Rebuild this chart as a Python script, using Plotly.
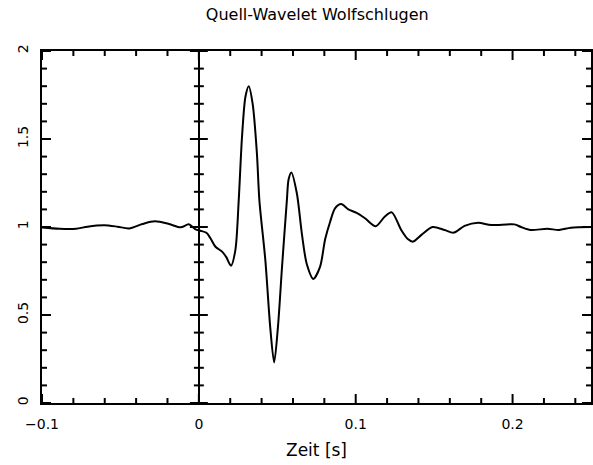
import plotly.graph_objects as go

# Wavelet samples (time in s, amplitude)
zeit = [-0.1002, -0.0889, -0.0783, -0.0710, -0.0604, -0.0519, -0.0445, -0.0360,
        -0.0280, -0.0190, -0.0116, -0.0064, -0.0021, 0.0010, 0.0048, 0.0074,
        0.0106, 0.0148, 0.0174, 0.0205, 0.0233, 0.0254, 0.0275, 0.0297, 0.0318,
        0.0343, 0.0370, 0.0386, 0.0424, 0.0455, 0.0480, 0.0504, 0.0530, 0.0561,
        0.0572, 0.0590, 0.0625, 0.0657, 0.0688, 0.0730, 0.0773, 0.0805, 0.0837,
        0.0868, 0.0907, 0.0953, 0.1006, 0.1059, 0.1127, 0.1186, 0.1230, 0.1290,
        0.1334, 0.1366, 0.1419, 0.1490, 0.1567, 0.1624, 0.1694, 0.1780, 0.1864,
        0.2012, 0.2054, 0.2115, 0.2222, 0.2296, 0.2372, 0.2500]
amplitude = [0.998, 0.990, 0.990, 1.002, 1.010, 1.002, 0.992, 1.017,
             1.032, 1.017, 0.998, 1.015, 0.987, 0.979, 0.967, 0.936,
             0.888, 0.860, 0.830, 0.780, 0.870, 1.150, 1.510, 1.740, 1.800,
             1.700, 1.420, 1.150, 0.810, 0.430, 0.230, 0.430, 0.770, 1.150,
             1.270, 1.310, 1.190, 0.960, 0.790, 0.705, 0.775, 0.930, 1.030,
             1.106, 1.130, 1.100, 1.080, 1.050, 1.004, 1.060, 1.083, 0.983,
             0.930, 0.917, 0.955, 1.000, 0.983, 0.968, 1.006, 1.024, 1.011,
             1.015, 1.000, 0.983, 0.990, 0.983, 0.996, 1.000]

# Major tick positions (labels: Plotly default formatting -> "−0.1", "0", "0.1", "0.2";
# "0", "0.5", "1", "1.5", "2")
x_ticks = [-0.1, 0.0, 0.1, 0.2]
y_ticks = [0.0, 0.5, 1.0, 1.5, 2.0]
x_minor_step = 0.02
y_minor_step = 0.1
x_range = [-0.1, 0.25]
y_range = [0.0, 2.0]

FONT = "DejaVu Sans"
LINE = "#000000"
W, H = 593, 465
M = dict(l=42, r=0, t=51, b=62)

# tick lengths in pixels, converted to data units through the axis scales
px_x = (x_range[1] - x_range[0]) / (W - M["l"] - M["r"])
px_y = (y_range[1] - y_range[0]) / (H - M["t"] - M["b"])
MAJ, MIN = 9.0, 5.0


def steps(lo, hi, step):
    n = int(round((hi - lo) / step))
    return [round(lo + i * step, 6) for i in range(n + 1)]


x_all = steps(x_range[0], x_range[1] - 1e-9, x_minor_step)
y_all = steps(y_range[0], y_range[1], y_minor_step)
x_major = set(round(v, 6) for v in x_ticks)
y_major = set(round(v, 6) for v in y_ticks)

tx, ty = [], []
# ticks along bottom and top edges (pointing inward)
for xv in x_all:
    L = (MAJ if xv in x_major else MIN) * px_y
    tx += [xv, xv, None, xv, xv, None]
    ty += [y_range[0], y_range[0] + L, None, y_range[1], y_range[1] - L, None]
# ticks along left and right edges (inward) and crossing the t = 0 line
for yv in y_all:
    L = (MAJ if yv in y_major else MIN) * px_x
    tx += [x_range[0], x_range[0] + L, None, x_range[1], x_range[1] - L, None, -L, L, None]
    ty += [yv, yv, None, yv, yv, None, yv, yv, None]

fig = go.Figure()
fig.add_trace(go.Scatter(x=tx, y=ty, mode="lines", connectgaps=False,
                         line=dict(color=LINE, width=2),
                         hoverinfo="skip", showlegend=False))
fig.add_trace(go.Scatter(x=zeit, y=amplitude, mode="lines",
                         line=dict(color="black", width=2, shape="spline", smoothing=0.8),
                         hoverinfo="skip", showlegend=False))

fig.update_layout(
    width=W, height=H, margin=M,
    paper_bgcolor="white", plot_bgcolor="white",
    font=dict(family=FONT, size=14, color="black"),
    title=dict(text="Quell-Wavelet Wolfschlugen", x=0.535, xref="container",
               xanchor="center", y=0.97, yref="container", yanchor="middle",
               font=dict(family=FONT, size=16)),
    xaxis=dict(range=x_range, showgrid=False, showline=True, mirror=True,
               linecolor=LINE, linewidth=1.5, ticks="",
               zeroline=True, zerolinecolor=LINE, zerolinewidth=1.5,
               tickmode="linear", tick0=0, dtick=x_ticks[1] - x_ticks[0],
               ticklabelstandoff=7,
               title=dict(text="Zeit [s]", standoff=14, font=dict(size=17))),
    yaxis=dict(range=y_range, showgrid=False, zeroline=False, showline=True, mirror=True,
               linecolor=LINE, linewidth=1.5, ticks="",
               tickmode="linear", tick0=0, dtick=y_ticks[1] - y_ticks[0],
               tickangle=-90, ticklabelstandoff=7),
)

fig.write_html("out.html")
